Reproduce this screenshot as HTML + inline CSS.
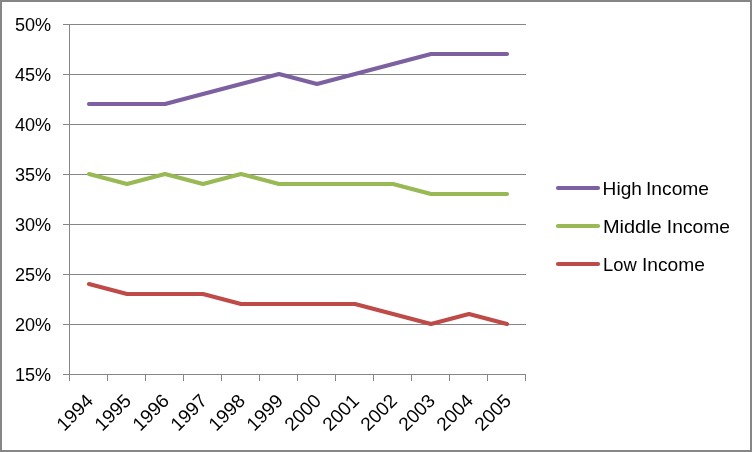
<!DOCTYPE html>
<html><head><meta charset="utf-8"><title>Chart</title>
<style>
html,body{margin:0;padding:0;background:#fff;}
body{width:752px;height:452px;overflow:hidden;font-family:"Liberation Sans",sans-serif;}
svg{display:block;position:absolute;left:0;top:0;}
text{font-family:"Liberation Sans",sans-serif;font-size:18.95px;fill:#000;}
</style></head><body>
<svg width="752" height="452" viewBox="0 0 752 452">
<rect x="0" y="0" width="752" height="452" fill="#fff"/>
<rect x="1" y="1" width="750" height="450" fill="none" stroke="#868686" stroke-width="2"/>
<g stroke="#868686" stroke-width="1" shape-rendering="crispEdges" fill="none">
<line x1="63" y1="24.5" x2="526" y2="24.5"/>
<line x1="63" y1="74.5" x2="526" y2="74.5"/>
<line x1="63" y1="124.5" x2="526" y2="124.5"/>
<line x1="63" y1="174.5" x2="526" y2="174.5"/>
<line x1="63" y1="224.5" x2="526" y2="224.5"/>
<line x1="63" y1="274.5" x2="526" y2="274.5"/>
<line x1="63" y1="324.5" x2="526" y2="324.5"/>
<line x1="63" y1="374.5" x2="526" y2="374.5"/>
<line x1="69.5" y1="24" x2="69.5" y2="381"/>
<line x1="107.5" y1="374" x2="107.5" y2="381"/>
<line x1="145.5" y1="374" x2="145.5" y2="381"/>
<line x1="183.5" y1="374" x2="183.5" y2="381"/>
<line x1="221.5" y1="374" x2="221.5" y2="381"/>
<line x1="259.5" y1="374" x2="259.5" y2="381"/>
<line x1="297.5" y1="374" x2="297.5" y2="381"/>
<line x1="335.5" y1="374" x2="335.5" y2="381"/>
<line x1="373.5" y1="374" x2="373.5" y2="381"/>
<line x1="411.5" y1="374" x2="411.5" y2="381"/>
<line x1="449.5" y1="374" x2="449.5" y2="381"/>
<line x1="487.5" y1="374" x2="487.5" y2="381"/>
<line x1="525.5" y1="374" x2="525.5" y2="381"/>
</g>
<g fill="none" stroke-width="4.15" stroke-linecap="round" stroke-linejoin="round">
<polyline stroke="#7D60A0" points="89,104 127,104 165,104 203,94 241,84 279,74 317,84 355,74 393,64 431,54 469,54 507,54"/>
<polyline stroke="#98B954" points="89,174 127,184 165,174 203,184 241,174 279,184 317,184 355,184 393,184 431,194 469,194 507,194"/>
<polyline stroke="#BE4B48" points="89,284 127,294 165,294 203,294 241,304 279,304 317,304 355,304 393,314 431,324 469,314 507,324"/>
<line stroke="#7D60A0" x1="558" y1="188" x2="598" y2="188"/>
<line stroke="#98B954" x1="558" y1="226" x2="598" y2="226"/>
<line stroke="#BE4B48" x1="558" y1="264" x2="598" y2="264"/>
</g>
<g style="filter:grayscale(1)">
<text x="51.2" y="31.00" text-anchor="end" textLength="36.2" lengthAdjust="spacingAndGlyphs">50%</text>
<text x="51.2" y="81.00" text-anchor="end" textLength="36.2" lengthAdjust="spacingAndGlyphs">45%</text>
<text x="51.2" y="131.00" text-anchor="end" textLength="36.2" lengthAdjust="spacingAndGlyphs">40%</text>
<text x="51.2" y="181.00" text-anchor="end" textLength="36.2" lengthAdjust="spacingAndGlyphs">35%</text>
<text x="51.2" y="231.00" text-anchor="end" textLength="36.2" lengthAdjust="spacingAndGlyphs">30%</text>
<text x="51.2" y="281.00" text-anchor="end" textLength="36.2" lengthAdjust="spacingAndGlyphs">25%</text>
<text x="51.2" y="331.00" text-anchor="end" textLength="36.2" lengthAdjust="spacingAndGlyphs">20%</text>
<text x="51.2" y="381.00" text-anchor="end" textLength="36.2" lengthAdjust="spacingAndGlyphs">15%</text>
<text transform="translate(94.30,402.0) rotate(-45)" text-anchor="end" textLength="42.5" lengthAdjust="spacingAndGlyphs">1994</text>
<text transform="translate(132.30,402.0) rotate(-45)" text-anchor="end" textLength="42.5" lengthAdjust="spacingAndGlyphs">1995</text>
<text transform="translate(170.30,402.0) rotate(-45)" text-anchor="end" textLength="42.5" lengthAdjust="spacingAndGlyphs">1996</text>
<text transform="translate(208.30,402.0) rotate(-45)" text-anchor="end" textLength="42.5" lengthAdjust="spacingAndGlyphs">1997</text>
<text transform="translate(246.30,402.0) rotate(-45)" text-anchor="end" textLength="42.5" lengthAdjust="spacingAndGlyphs">1998</text>
<text transform="translate(284.30,402.0) rotate(-45)" text-anchor="end" textLength="42.5" lengthAdjust="spacingAndGlyphs">1999</text>
<text transform="translate(322.30,402.0) rotate(-45)" text-anchor="end" textLength="42.5" lengthAdjust="spacingAndGlyphs">2000</text>
<text transform="translate(360.30,402.0) rotate(-45)" text-anchor="end" textLength="42.5" lengthAdjust="spacingAndGlyphs">2001</text>
<text transform="translate(398.30,402.0) rotate(-45)" text-anchor="end" textLength="42.5" lengthAdjust="spacingAndGlyphs">2002</text>
<text transform="translate(436.30,402.0) rotate(-45)" text-anchor="end" textLength="42.5" lengthAdjust="spacingAndGlyphs">2003</text>
<text transform="translate(474.30,402.0) rotate(-45)" text-anchor="end" textLength="42.5" lengthAdjust="spacingAndGlyphs">2004</text>
<text transform="translate(512.30,402.0) rotate(-45)" text-anchor="end" textLength="42.5" lengthAdjust="spacingAndGlyphs">2005</text>
<text x="602.64" y="194.80" textLength="39.27" lengthAdjust="spacingAndGlyphs">High</text>
<text x="645.97" y="194.80" textLength="63.11" lengthAdjust="spacingAndGlyphs">Income</text>
<text x="602.95" y="232.80" textLength="58.72" lengthAdjust="spacingAndGlyphs">Middle</text>
<text x="666.87" y="232.80" textLength="63.24" lengthAdjust="spacingAndGlyphs">Income</text>
<text x="603.08" y="270.80" textLength="33.67" lengthAdjust="spacingAndGlyphs">Low</text>
<text x="641.97" y="270.80" textLength="62.88" lengthAdjust="spacingAndGlyphs">Income</text>
</g>
</svg></body></html>
